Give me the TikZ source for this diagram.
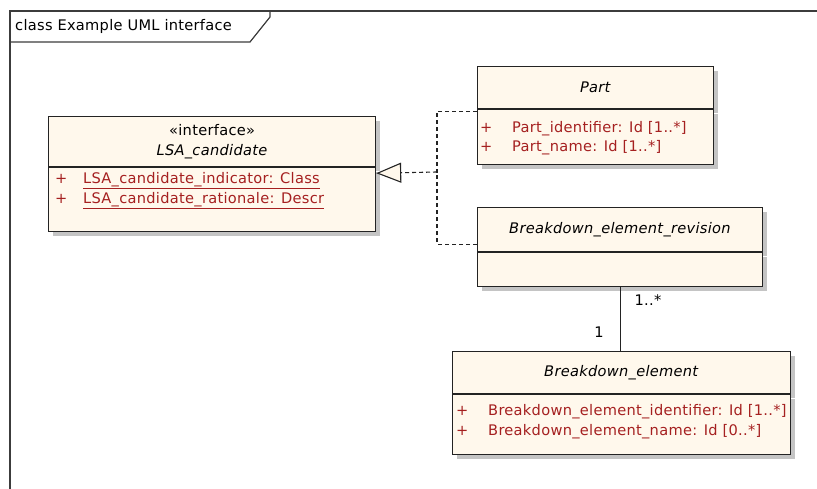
\documentclass[tikz,border=0pt]{standalone}
\usepackage{fontspec}
\setmainfont{DejaVu Sans}[LetterSpace=2]
\usetikzlibrary{arrows.meta,shadows}
\definecolor{umlfill}{RGB}{255,248,236}
\definecolor{umlattr}{RGB}{165,32,32}
\definecolor{umlline}{RGB}{35,35,35}
\definecolor{umlshadow}{RGB}{196,196,196}
\definecolor{frameline}{RGB}{60,60,60}
\newcommand{\umlsize}{\fontsize{14.6}{20}\selectfont}
\newcommand{\vis}[1]{\makebox[#1][l]{+}}
\tikzset{
  classbox/.style={draw=umlline,line width=1.2pt,fill=umlfill,inner sep=0pt,
    anchor=north west,align=center,font=\umlsize,
    drop shadow={shadow xshift=4pt,shadow yshift=-4pt,fill=umlshadow,opacity=1}},
  attrline/.style={anchor=west,inner sep=0pt,font=\umlsize,text=umlattr},
  realize/.style={dashed,dash pattern=on 4pt off 3pt,line width=1.1pt,draw=umlline},
  assoc/.style={line width=1.1pt,draw=umlline},
  multlabel/.style={font=\umlsize,inner sep=0pt}
}

\begin{document}
\begin{tikzpicture}[x=1pt,y=-1pt]
  \useasboundingbox (0,0) rectangle (817,489);
  % diagram frame with its name tab
  \draw[frameline,line width=1.2pt] (10,489) -- (10,11) -- (817,11);
  \draw[frameline,line width=1.2pt] (270,11) -- (270,17) -- (250,42) -- (10,42);
  \node[anchor=west,inner sep=0pt,font=\umlsize] (frame-title) at (15,26) {class Example UML interface};

  % interface
  \node[classbox,minimum width=327pt,minimum height=50pt] (lsa) at (48,116)
    {«interface»\\ \textit{LSA\_candidate}};
  \node[classbox,minimum width=327pt,minimum height=64pt] (lsa-attr) at (lsa.south west) {};
  \node[attrline] (lsa-a1) at ([shift={(7pt,-13pt)}]lsa-attr.north west)
    {\vis{28pt}\underline{LSA\_candidate\_indicator: Class}};
  \node[attrline] (lsa-a2) at ([shift={(7pt,-33pt)}]lsa-attr.north west)
    {\vis{28pt}\underline{LSA\_candidate\_rationale: Descr}};

  % Part
  \node[classbox,minimum width=236pt,minimum height=42pt] (part) at (477,66) {\textit{Part}};
  \node[classbox,minimum width=236pt,minimum height=55pt] (part-attr) at (part.south west) {};
  \node[attrline] (part-a1) at ([shift={(3pt,-19pt)}]part-attr.north west)
    {\vis{32pt}Part\_identifier: Id [1..*]};
  \node[attrline] (part-a2) at ([shift={(3pt,-38pt)}]part-attr.north west)
    {\vis{32pt}Part\_name: Id [1..*]};

  % Breakdown_element_revision
  \node[classbox,minimum width=285pt,minimum height=44pt] (ber) at (477,207)
    {\textit{Breakdown\_element\_revision}};
  \node[classbox,minimum width=285pt,minimum height=34pt] (ber-attr) at (ber.south west) {};

  % Breakdown_element
  \node[classbox,minimum width=338pt,minimum height=42pt] (be) at (452,351)
    {\textit{Breakdown\_element}};
  \node[classbox,minimum width=338pt,minimum height=60pt] (be-attr) at (be.south west) {};
  \node[attrline] (be-a1) at ([shift={(4pt,-17pt)}]be-attr.north west)
    {\vis{32pt}Breakdown\_element\_identifier: Id [1..*]};
  \node[attrline] (be-a2) at ([shift={(4pt,-37pt)}]be-attr.north west)
    {\vis{32pt}Breakdown\_element\_name: Id [0..*]};

  % realizations
  \coordinate (junction) at (437,172);
  \draw[realize] ([yshift=-2pt]part.south west) -| (junction);
  \draw[realize] ([yshift=8pt]ber.south west) -| (junction);
  \draw[realize,-{Triangle[length=25pt,width=20pt,fill=umlfill,line width=1.1pt]}]
    (junction) -- ([yshift=-6pt]lsa.south east);

  % association
  \draw[assoc] (ber-attr.south) -- (ber-attr.south |- be.north)
    node[multlabel,pos=0.2,right=14pt] (mult-top) {1..*}
    node[multlabel,pos=0.71,left=16pt] (mult-bot) {1};
\end{tikzpicture}
\end{document}
